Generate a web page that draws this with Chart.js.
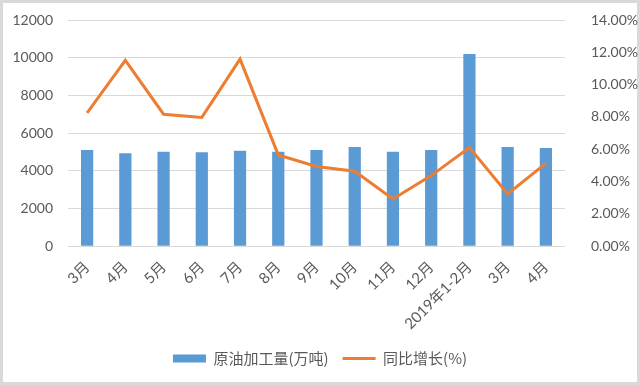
<!DOCTYPE html>
<html>
<head>
<meta charset="utf-8">
<script src="https://cdn.jsdelivr.net/npm/chart.js@4.4.0/dist/chart.umd.min.js"></script>
<style>
  html, body { margin: 0; padding: 0; background: #fff; }
  canvas { display: block; }
</style>
</head>
<body>
<canvas id="chart" width="640" height="385"></canvas>
<script>
const months = ["3月", "4月", "5月", "6月", "7月", "8月", "9月", "10月", "11月", "12月", "2019年1-2月", "3月", "4月"];
const output = [5100, 4930, 5015, 4980, 5070, 5015, 5100, 5260, 5015, 5100, 10200, 5260, 5210];
const growth = [8.25, 11.5, 8.17, 7.97, 11.58, 5.65, 4.93, 4.64, 2.92, 4.37, 6.1, 3.24, 5.13];

const tickColor = "#595959";
const latin = "Lato, 'Noto Sans CJK SC', sans-serif";

// light grey frame like the source image
const frame = {
  id: "frame",
  beforeDraw(chart) {
    const ctx = chart.ctx;
    ctx.save();
    ctx.fillStyle = "#fff";
    ctx.fillRect(0, 0, chart.width, chart.height);
    ctx.strokeStyle = "#d9d9d9";
    ctx.lineWidth = 3;
    ctx.strokeRect(1.5, 1.5, chart.width - 3, chart.height - 3);
    ctx.restore();
  }
};

// fixed side widths so the plot sits where it does in the source
const fitSide = (w) => (scale) => {
  scale.width = w;
  scale.paddingTop = 0;
  scale.paddingBottom = 0;
};

const ctx = document.getElementById("chart").getContext("2d");
new Chart(ctx, {
  data: {
    labels: months,
    datasets: [
      {
        type: "line",
        label: "同比增长(%)",
        data: growth,
        yAxisID: "y1",
        borderColor: "#ED7D31",
        backgroundColor: "#ED7D31",
        borderWidth: 3,
        pointRadius: 0,
        pointStyle: "line",
        tension: 0,
        order: 1
      },
      {
        type: "bar",
        label: "原油加工量(万吨)",
        data: output,
        yAxisID: "y",
        backgroundColor: "#5B9BD5",
        borderWidth: 0,
        pointStyle: "rect",
        barPercentage: 0.32,
        categoryPercentage: 1,
        order: 2
      }
    ]
  },
  options: {
    responsive: false,
    animation: false,
    layout: { padding: { left: 0, right: 0, top: 20, bottom: 9 } },
    scales: {
      x: {
        grid: { display: false },
        border: { display: false },
        ticks: {
          color: tickColor,
          font: { family: latin, size: 15 },
          maxRotation: 45,
          minRotation: 45,
          autoSkip: false,
          padding: 4
        }
      },
      y: {
        position: "left",
        min: 0,
        max: 12000,
        afterFit: fitSide(68),
        grid: { color: "#d9d9d9", drawTicks: false },
        border: { display: false },
        ticks: {
          stepSize: 2000,
          color: tickColor,
          font: { family: latin, size: 14 },
          padding: 15,
          callback: (v) => String(v)
        }
      },
      y1: {
        position: "right",
        min: 0,
        max: 14,
        afterFit: fitSide(75),
        grid: { display: false },
        border: { display: false },
        ticks: {
          stepSize: 2,
          color: tickColor,
          font: { family: latin, size: 14 },
          padding: 18,
          callback: (v) => v.toFixed(2) + "%"
        }
      }
    },
    plugins: {
      tooltip: { enabled: false },
      legend: {
        position: "bottom",
        reverse: true,
        labels: {
          color: tickColor,
          font: { family: "'Noto Sans CJK SC', sans-serif", size: 15 },
          usePointStyle: true,
          pointStyleWidth: 33,
          boxHeight: 8,
          padding: 14
        }
      }
    }
  },
  plugins: [frame]
});
</script>
</body>
</html>
